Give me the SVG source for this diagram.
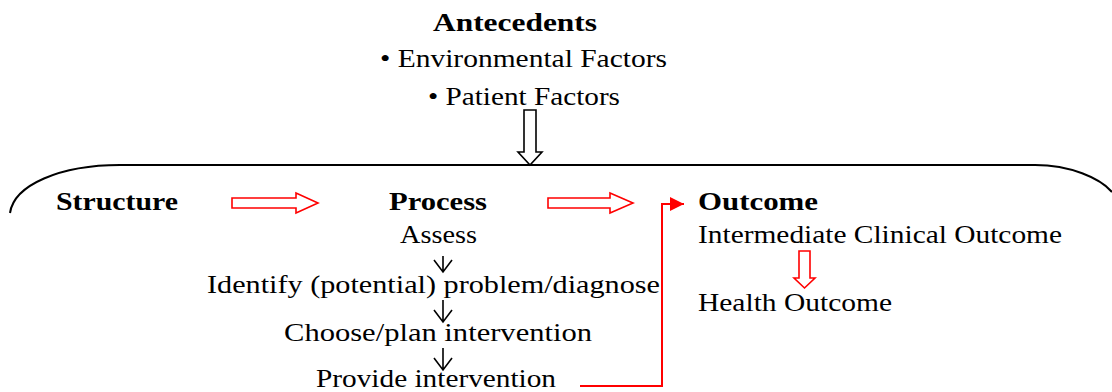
<svg xmlns="http://www.w3.org/2000/svg" width="1112" height="392" viewBox="0 0 1112 392">
<style>
.t{font-family:"Liberation Serif","Times New Roman",serif;font-size:26px;fill:#000}
.b{font-weight:bold}
.hollow{fill:#fff;stroke:#000;stroke-width:1.6}
.red{fill:#fff;stroke:#f00;stroke-width:1.6}
.vk{fill:none;stroke:#000;stroke-width:1.6}
.conn{fill:none;stroke:#f00;stroke-width:2}
</style>
<defs>
<marker id="rtri" markerWidth="16" markerHeight="16" refX="14" refY="7" orient="auto" markerUnits="userSpaceOnUse">
<path d="M0,0 L14,7 L0,14 Z" fill="#f00"/>
</marker>
</defs>
<rect width="1112" height="392" fill="#fff"/>
<path d="M10 213 C 14 185, 60 165, 120 165 L 1035 165 C 1070 165, 1100 178, 1112 192" fill="none" stroke="#000" stroke-width="2"/>
<g id="antecedents">
<text class="t b" x="433" y="31" textLength="164" lengthAdjust="spacingAndGlyphs">Antecedents</text>
<text class="t" x="380" y="67" textLength="287" lengthAdjust="spacingAndGlyphs">• Environmental Factors</text>
<text class="t" x="428" y="105" textLength="192" lengthAdjust="spacingAndGlyphs">• Patient Factors</text>
</g>
<g id="structure">
<text class="t b" x="56" y="210" textLength="122" lengthAdjust="spacingAndGlyphs">Structure</text>
</g>
<g id="process">
<text class="t b" x="389" y="210" textLength="98" lengthAdjust="spacingAndGlyphs">Process</text>
<text class="t" x="400" y="243" textLength="77" lengthAdjust="spacingAndGlyphs">Assess</text>
<text class="t" x="207" y="293" textLength="453" lengthAdjust="spacingAndGlyphs">Identify (potential) problem/diagnose</text>
<text class="t" x="284" y="341" textLength="308" lengthAdjust="spacingAndGlyphs">Choose/plan intervention</text>
<text class="t" x="316" y="387" textLength="240" lengthAdjust="spacingAndGlyphs">Provide intervention</text>
</g>
<g id="outcome">
<text class="t b" x="698" y="210" textLength="120" lengthAdjust="spacingAndGlyphs">Outcome</text>
<text class="t" x="698" y="243" textLength="364" lengthAdjust="spacingAndGlyphs">Intermediate Clinical Outcome</text>
<text class="t" x="698" y="311" textLength="194" lengthAdjust="spacingAndGlyphs">Health Outcome</text>
</g>
<g id="connectors">
<polygon class="hollow" points="524,110 536,110 536,152 542,152 530,165 518,152 524,152"/>
<polygon class="red" points="232,198 296,198 296,193 318,203 296,213 296,208 232,208"/>
<polygon class="red" points="548,198 610,198 610,193 633,203 610,213 610,208 548,208"/>
<polygon class="red" points="799,251 810,251 810,278 815,278 804.5,288 794,278 799,278"/>
<path class="conn" d="M580 386 H662 V204 H684" marker-end="url(#rtri)"/>
<path class="vk" d="M443 256 V272 M434 260 L443 272 L452 260"/>
<path class="vk" d="M443 300 V322 M434 310 L443 322 L452 310"/>
<path class="vk" d="M443 348 V370 M434 358 L443 370 L452 358"/>
</g>
</svg>
